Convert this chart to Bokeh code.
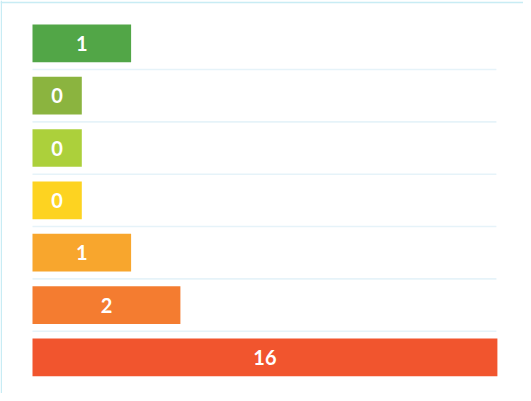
import numpy as np
from bokeh.plotting import figure
from bokeh.models import Range1d, ColumnDataSource, Span
from bokeh.core.properties import value
from bokeh.embed import file_html
from bokeh.resources import INLINE

# data
categories = ["A", "B", "C", "D", "E", "F", "G"]
values = np.array([1, 0, 0, 0, 1, 2, 16])
labels = [str(v) for v in values]
colors = ["#52a647", "#8bb43f", "#acd03b", "#fdd321", "#f8a62d", "#f47c30", "#f1552e"]

# display scale: bar length = value + 1 units, capped at the scale maximum
SCALE_MAX = 9.43

idx = np.arange(len(categories))
bar_right = np.minimum(values + 1, SCALE_MAX)

src = ColumnDataSource(dict(
    y=idx, left=np.zeros(len(idx)), right=bar_right, color=colors,
    lx=bar_right / 2, label=labels,
))

W, H = 523, 393
PX_X = 49.3
PX_Y = 52.35
x_start = -32 / PX_X
x_end = x_start + W / PX_X
y_top = -42.8 / PX_Y
y_bot = y_top + H / PX_Y

p = figure(width=W, height=H, output_backend="svg", toolbar_location=None,
           x_range=Range1d(x_start, x_end), y_range=Range1d(y_bot, y_top),
           min_border=0, min_border_left=0, min_border_right=0,
           min_border_top=0, min_border_bottom=0)
p.axis.visible = False
p.grid.visible = False
p.outline_line_color = None
p.background_fill_color = "white"
p.border_fill_color = "white"

# separators between rows
gy = idx[:-1] + 0.5
p.segment(x0=np.zeros(len(gy)), x1=np.full(len(gy), SCALE_MAX - 0.02), y0=gy, y1=gy,
          line_color="#e6f3f9", line_width=1.6)

p.hbar(y="y", left="left", right="right", height=0.72, fill_color="color",
       line_color=None, source=src)

p.text(x="lx", y="y", text="label", source=src, text_color="white",
       text_font=value("Lato"), text_font_style="bold", text_font_size="20px",
       text_align="center", text_baseline="middle")

# container outline (top and left edges)
p.add_layout(Span(location=x_start + 0.8 / PX_X, dimension="height",
                  line_color="#c8ecf4", line_width=1.4))
p.add_layout(Span(location=y_top + 2.0 / PX_Y, dimension="width",
                  line_color="#c8ecf4", line_width=1.4))

open("out.html", "w").write(file_html(p, INLINE))
